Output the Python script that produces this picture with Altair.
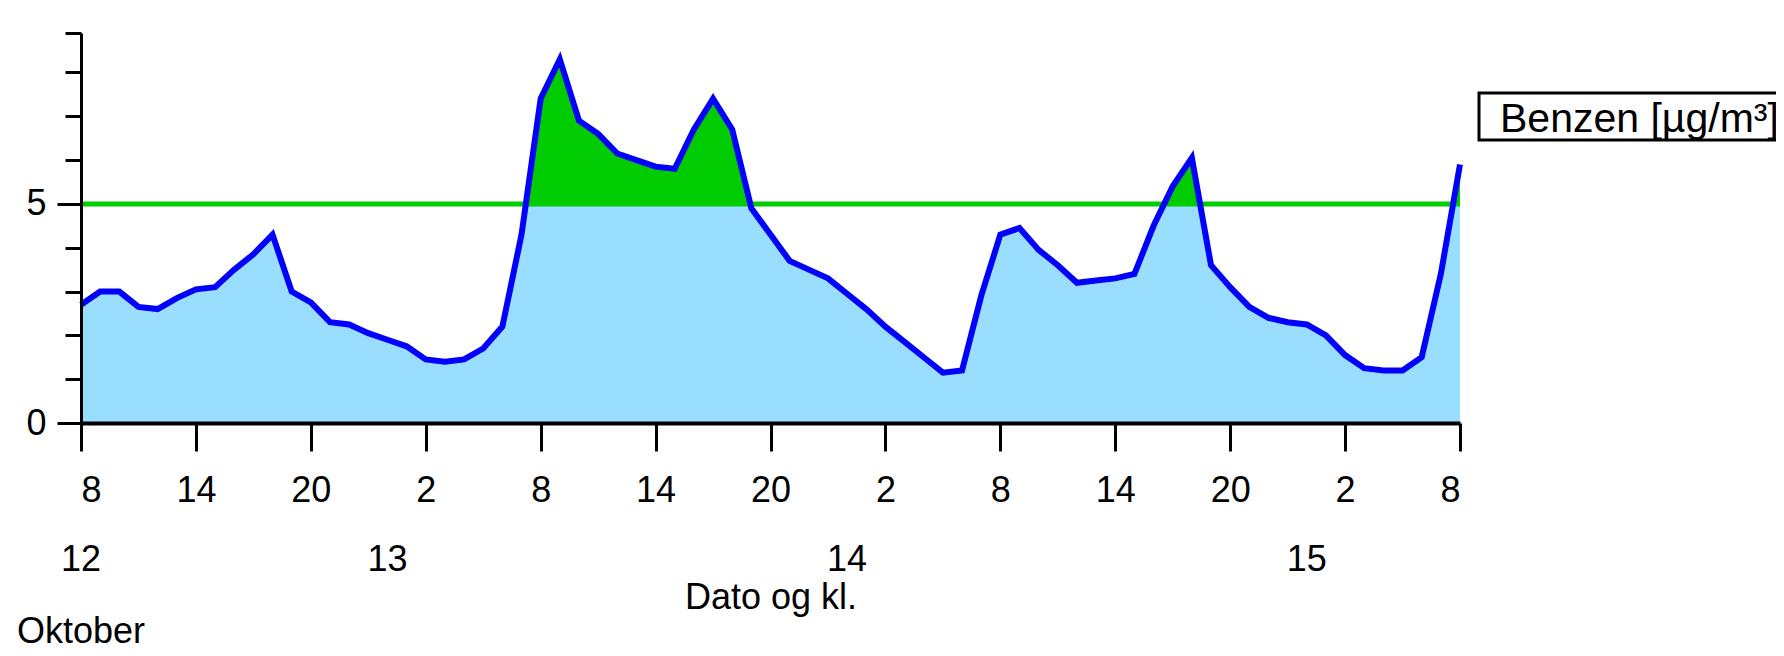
import altair as alt
import pandas as pd

# hours after 12 Oct 08:00
hours = list(range(0, 73))
benzen = [2.7, 3.0, 3.0, 2.65, 2.6, 2.85, 3.05, 3.1, 3.5, 3.85,
          4.3, 3.0, 2.75, 2.3, 2.25, 2.05, 1.9, 1.75, 1.45, 1.4,
          1.45, 1.7, 2.2, 4.3, 7.4, 8.3, 6.9, 6.6, 6.15, 6.0,
          5.85, 5.8, 6.7, 7.4, 6.7, 4.9, 4.3, 3.7, 3.5, 3.3,
          2.95, 2.6, 2.2, 1.85, 1.5, 1.15, 1.2, 2.9, 4.3, 4.45,
          3.95, 3.6, 3.2, 3.25, 3.3, 3.4, 4.5, 5.4, 6.05, 3.6,
          3.1, 2.65, 2.4, 2.3, 2.25, 2.0, 1.55, 1.25, 1.2, 1.2,
          1.5, 3.4, 5.9]
threshold = 5
y_max = 8.9
series_name = "Benzen [µg/m³]"

x_ticks = list(range(0, 73, 6))
y_ticks = [0, 1, 2, 3, 4, 5, 6, 7, 8, 8.9]
day_hours = [0, 16, 40, 64]
day_labels = ["12", "13", "14", "15"]
month_label = "Oktober"
x_title = "Dato og kl."

FONT = "Liberation Sans"
BLUE_FILL = "#99ddff"
GREEN = "#00cc00"
BLUE = "#0000ff"

df = pd.DataFrame({"h": hours, "v": benzen, "top": y_max})
days = pd.DataFrame({"h": day_hours, "d": day_labels})
bands = pd.DataFrame({"x0": [0, 0], "x1": [72, 72], "y0": [0, threshold],
                      "y1": [threshold, y_max], "c": ["below", "above"]})

xscale = alt.Scale(domain=[0, 72], nice=False, zero=False)
yscale = alt.Scale(domain=[0, y_max], nice=False)

x_axis = alt.Axis(values=x_ticks, labelExpr="(datum.value + 8) % 24", tickSize=28,
                  tickWidth=3, tickColor="black", domainWidth=4, domainColor="black",
                  labelPadding=22, labelFontSize=36, labelFont=FONT, labelColor="black",
                  grid=False, title=x_title, titleFont=FONT, titleFontSize=36,
                  titleFontWeight="normal", titleColor="black", titleBaseline="alphabetic",
                  titleY=185, zindex=1)
y_axis = alt.Axis(values=y_ticks,
                  labelExpr="datum.value == 0 || datum.value == 5 ? datum.label : ''",
                  tickSize={"condition": {"test": "datum.value == 0 || datum.value == 5", "value": 24}, "value": 16},
                  tickWidth=3, tickColor="black", domainWidth=3, domainColor="black",
                  labelPadding=11, labelFontSize=36, labelFont=FONT, labelColor="black",
                  grid=False, title=None, zindex=1)

# coloured bands: blue below the limit, green above it
band_rect = alt.Chart(bands).mark_rect().encode(
    x=alt.X("x0:Q", scale=xscale, axis=x_axis),
    x2="x1:Q",
    y=alt.Y("y0:Q", scale=yscale, axis=y_axis),
    y2="y1:Q",
    color=alt.Color("c:N", scale=alt.Scale(domain=["below", "above"], range=[BLUE_FILL, GREEN]),
                    legend=None),
)

# white mask above the curve
mask = alt.Chart(df).mark_area(color="white", interpolate="linear").encode(
    x=alt.X("h:Q", scale=xscale),
    y=alt.Y("v:Q", scale=yscale),
    y2="top:Q",
)

rule = alt.Chart(pd.DataFrame({"t": [threshold]})).mark_rule(color=GREEN, strokeWidth=5).encode(
    y=alt.Y("t:Q", scale=yscale)
)

line = alt.Chart(df).mark_line(strokeWidth=6, interpolate="linear", color=BLUE).encode(
    x=alt.X("h:Q", scale=xscale),
    y=alt.Y("v:Q", scale=yscale),
)

day_text = alt.Chart(days).mark_text(fontSize=36, font=FONT, color="black",
                                     baseline="alphabetic", align="center").encode(
    x=alt.X("h:Q", scale=xscale),
    y=alt.value(538),
    text="d:N",
)

month_text = alt.Chart(pd.DataFrame({"m": [month_label]})).mark_text(
    fontSize=36, font=FONT, color="black", baseline="alphabetic", align="left"
).encode(x=alt.value(-64), y=alt.value(610), text="m:N")

legend_box = alt.Chart(pd.DataFrame({"s": [series_name]})).mark_rect(
    fill="white", stroke="black", strokeWidth=3
).encode(x=alt.value(1398), x2=alt.value(1900), y=alt.value(60), y2=alt.value(107))

legend_text = alt.Chart(pd.DataFrame({"s": [series_name]})).mark_text(
    fontSize=41, font=FONT, color="black", baseline="alphabetic", align="left"
).encode(x=alt.value(1419), y=alt.value(99), text="s:N")

chart = alt.layer(band_rect, mask, rule, line, day_text, month_text, legend_box, legend_text).properties(
    width=1379, height=390,
    autosize=alt.AutoSizeParams(type="none"),
    padding={"left": 73, "top": 25, "right": 316, "bottom": 225},
).configure_view(stroke=None)

chart.save("out.html", embed_options={"renderer": "svg", "actions": False})
